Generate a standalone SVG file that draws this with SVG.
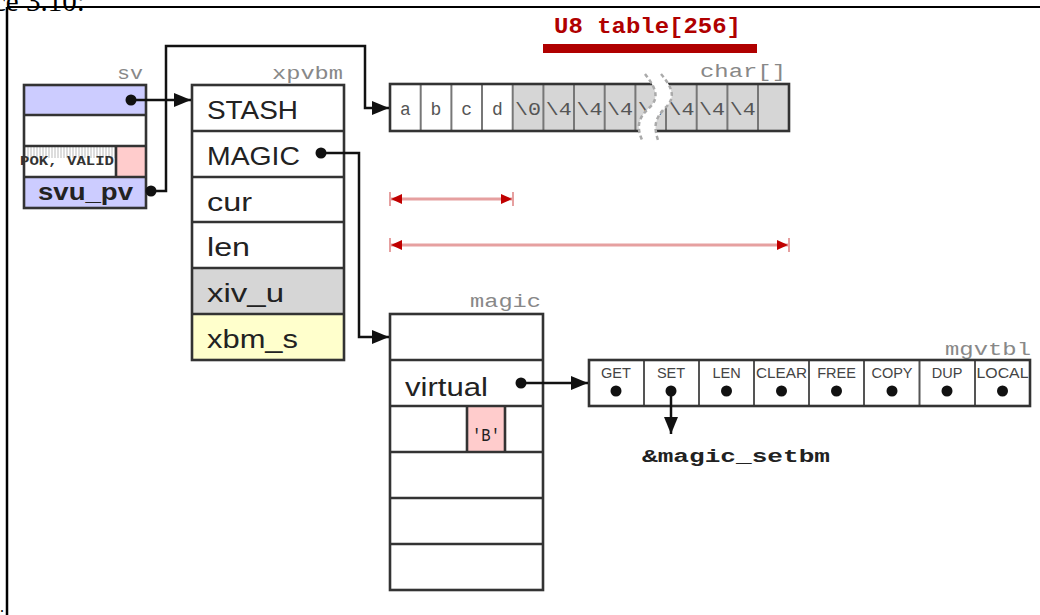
<svg xmlns="http://www.w3.org/2000/svg" width="1040" height="615" viewBox="0 0 1040 615">
<style>
.box{stroke:#333;stroke-width:2.6;fill:none}
.cell{stroke:#333;stroke-width:2.6}
.div{stroke:#777;stroke-width:2}
.lbl{font-family:"Liberation Sans",Arial,sans-serif;font-size:25px;fill:#222}
.mono{font-family:"Liberation Mono","Courier New",monospace;font-size:19px;fill:#888}
.cm{font-family:"Liberation Mono","Courier New",monospace;font-size:18px;fill:#555}
.vt{font-family:"Liberation Sans",Arial,sans-serif;font-size:14.5px;fill:#444;text-anchor:middle}
.con{stroke:#111;stroke-width:2.5;fill:none}
.dim{stroke:#e6a0a0;stroke-width:3;fill:none}
.tick{stroke:#e6a0a0;stroke-width:2}
</style>
<defs>
<marker id="ah" markerUnits="userSpaceOnUse" markerWidth="18" markerHeight="14" refX="17" refY="7" orient="auto">
<path d="M0,0 L17,7 L0,14 z" fill="#111"/>
</marker>
<marker id="rh" markerUnits="userSpaceOnUse" markerWidth="12" markerHeight="10" refX="11" refY="5" orient="auto-start-reverse">
<path d="M0,0 L11,5 L0,10 z" fill="#c00000"/>
</marker>
<pattern id="hatch" patternUnits="userSpaceOnUse" width="3" height="12">
<line x1="1" y1="0" x2="1" y2="12" stroke="#bbb" stroke-width="1"/>
</pattern>
</defs>

<rect x="0" y="0" width="1040" height="615" fill="#fff"/>
<g id="page">
<text x="-7" y="11" font-family="'Liberation Serif','Times New Roman',serif" font-size="29" fill="#000">ce 3.10:</text>
<line x1="7" y1="7" x2="1040" y2="7" stroke="#000" stroke-width="2"/>
<line x1="7" y1="7" x2="7" y2="615" stroke="#000" stroke-width="2.5"/>
<text x="0" y="612" font-family="'Liberation Serif','Times New Roman',serif" font-size="16" fill="#000">.</text>
</g>

<g id="sv">
<text class="mono" x="143" y="79" text-anchor="end" textLength="26" lengthAdjust="spacingAndGlyphs">sv</text>
<rect x="24" y="85" width="122" height="30" fill="#ccccff"/>
<rect x="24" y="115" width="122" height="31" fill="#fff"/>
<rect x="24" y="146" width="92" height="31" fill="#fff"/>
<rect x="24" y="147" width="92" height="11" fill="url(#hatch)"/>
<rect x="116" y="146" width="30" height="31" fill="#ffcccc"/>
<rect x="24" y="177" width="122" height="31" fill="#ccccff"/>
<text x="20" y="165" font-family="'Liberation Mono','Courier New',monospace" font-weight="bold" font-size="13" fill="#333" textLength="94" lengthAdjust="spacingAndGlyphs">POK, VALID</text>
<line x1="24" y1="115" x2="146" y2="115" class="cell"/>
<line x1="24" y1="146" x2="146" y2="146" class="cell"/>
<line x1="24" y1="177" x2="146" y2="177" class="cell"/>
<line x1="116" y1="146" x2="116" y2="177" class="cell"/>
<rect x="24" y="85" width="122" height="123" class="box"/>
<text x="38" y="200" font-family="'Liberation Sans',Arial,sans-serif" font-weight="bold" font-size="24" fill="#222" textLength="95" lengthAdjust="spacingAndGlyphs">svu_pv</text>
</g>

<g id="xpvbm">
<text class="mono" x="343" y="79" text-anchor="end" textLength="71" lengthAdjust="spacingAndGlyphs">xpvbm</text>
<rect x="192" y="85" width="152" height="183" fill="#fff"/>
<rect x="192" y="268" width="152" height="46" fill="#d6d6d6"/>
<rect x="192" y="314" width="152" height="46" fill="#ffffcc"/>
<line x1="192" y1="131" x2="344" y2="131" class="cell"/>
<line x1="192" y1="177" x2="344" y2="177" class="cell"/>
<line x1="192" y1="222" x2="344" y2="222" class="cell"/>
<line x1="192" y1="268" x2="344" y2="268" class="cell"/>
<line x1="192" y1="314" x2="344" y2="314" class="cell"/>
<rect x="192" y="85" width="152" height="275" class="box"/>
<text class="lbl" x="207" y="119" textLength="91" lengthAdjust="spacingAndGlyphs">STASH</text>
<text class="lbl" x="207" y="165" textLength="93" lengthAdjust="spacingAndGlyphs">MAGIC</text>
<text class="lbl" x="207" y="211" textLength="45" lengthAdjust="spacingAndGlyphs">cur</text>
<text class="lbl" x="207" y="256" textLength="43" lengthAdjust="spacingAndGlyphs">len</text>
<text class="lbl" x="207" y="302" textLength="77" lengthAdjust="spacingAndGlyphs">xiv_u</text>
<text class="lbl" x="207" y="348" textLength="91" lengthAdjust="spacingAndGlyphs">xbm_s</text>
</g>

<g id="table">
<text x="554" y="33" font-family="'Liberation Mono','Courier New',monospace" font-weight="bold" font-size="22" fill="#b00000" textLength="187" lengthAdjust="spacingAndGlyphs">U8 table[256]</text>
<rect x="543" y="44" width="214" height="9" fill="#b00000"/>
</g>

<g id="char">
<text class="mono" x="786" y="77" text-anchor="end" textLength="86" lengthAdjust="spacingAndGlyphs">char[]</text>
<rect x="390" y="84" width="123" height="47" fill="#fff"/>
<rect x="513" y="84" width="276" height="47" fill="#d6d6d6"/>
<g class="div">
<line x1="420.7" y1="84" x2="420.7" y2="131"/>
<line x1="451.4" y1="84" x2="451.4" y2="131"/>
<line x1="482" y1="84" x2="482" y2="131"/>
<line x1="512.7" y1="84" x2="512.7" y2="131"/>
<line x1="543.4" y1="84" x2="543.4" y2="131"/>
<line x1="574" y1="84" x2="574" y2="131"/>
<line x1="604.7" y1="84" x2="604.7" y2="131"/>
<line x1="635.4" y1="84" x2="635.4" y2="131"/>
<line x1="666" y1="84" x2="666" y2="131"/>
<line x1="696.7" y1="84" x2="696.7" y2="131"/>
<line x1="727.4" y1="84" x2="727.4" y2="131"/>
<line x1="758" y1="84" x2="758" y2="131"/>
</g>
<rect x="390" y="84" width="399" height="47" class="box"/>
<g class="cm" text-anchor="middle">
<text x="405.3" y="115">a</text>
<text x="436" y="115">b</text>
<text x="466.7" y="115">c</text>
<text x="497.4" y="115">d</text>
<text x="528" y="115" textLength="26" lengthAdjust="spacingAndGlyphs">\0</text>
<text x="558.7" y="115" textLength="26" lengthAdjust="spacingAndGlyphs">\4</text>
<text x="589.4" y="115" textLength="26" lengthAdjust="spacingAndGlyphs">\4</text>
<text x="620" y="115" textLength="26" lengthAdjust="spacingAndGlyphs">\4</text>
<text x="650.7" y="115" textLength="26" lengthAdjust="spacingAndGlyphs">\4</text>
<text x="681.4" y="115" textLength="26" lengthAdjust="spacingAndGlyphs">\4</text>
<text x="712" y="115" textLength="26" lengthAdjust="spacingAndGlyphs">\4</text>
<text x="742.7" y="115" textLength="26" lengthAdjust="spacingAndGlyphs">\4</text>
</g>
<path d="M645 74 C656 88 660 98 649 108 C637 119 637 128 642 140 L658 140 C654 128 654 119 665 108 C676 98 673 88 661 74 Z" fill="#fff"/>
<path d="M645 74 C656 88 660 98 649 108 C637 119 637 128 642 140" fill="none" stroke="#aaa" stroke-width="2.5" stroke-dasharray="4 3"/>
<path d="M661 74 C673 88 676 98 665 108 C654 119 654 128 658 140" fill="none" stroke="#aaa" stroke-width="2.5" stroke-dasharray="4 3"/>
</g>

<g id="dims">
<line class="dim" x1="391" y1="199" x2="512" y2="199" marker-start="url(#rh)" marker-end="url(#rh)"/>
<line class="tick" x1="390" y1="192" x2="390" y2="206"/>
<line class="tick" x1="513" y1="192" x2="513" y2="206"/>
<line class="dim" x1="391" y1="245" x2="788" y2="245" marker-start="url(#rh)" marker-end="url(#rh)"/>
<line class="tick" x1="390" y1="238" x2="390" y2="252"/>
<line class="tick" x1="789" y1="238" x2="789" y2="252"/>
</g>

<g id="magic">
<text class="mono" x="541" y="307" text-anchor="end" textLength="71" lengthAdjust="spacingAndGlyphs">magic</text>
<rect x="390" y="314" width="153" height="276" fill="#fff"/>
<rect x="467" y="406" width="38" height="46" fill="#ffcccc"/>
<line x1="390" y1="360" x2="543" y2="360" class="cell"/>
<line x1="390" y1="406" x2="543" y2="406" class="cell"/>
<line x1="390" y1="452" x2="543" y2="452" class="cell"/>
<line x1="390" y1="498" x2="543" y2="498" class="cell"/>
<line x1="390" y1="544" x2="543" y2="544" class="cell"/>
<line x1="467" y1="406" x2="467" y2="452" class="cell"/>
<line x1="505" y1="406" x2="505" y2="452" class="cell"/>
<rect x="390" y="314" width="153" height="276" class="box"/>
<text class="lbl" x="405" y="396" textLength="83" lengthAdjust="spacingAndGlyphs">virtual</text>
<text x="486" y="441" text-anchor="middle" font-family="'Liberation Mono','Courier New',monospace" font-size="19" fill="#222" textLength="28" lengthAdjust="spacingAndGlyphs">'B'</text>
</g>

<g id="mgvtbl">
<text class="mono" x="1031" y="355" text-anchor="end" textLength="86" lengthAdjust="spacingAndGlyphs">mgvtbl</text>
<rect x="589" y="360" width="441" height="46" fill="#fff"/>
<g class="div" style="stroke:#555">
<line x1="644" y1="360" x2="644" y2="406"/>
<line x1="699" y1="360" x2="699" y2="406"/>
<line x1="754" y1="360" x2="754" y2="406"/>
<line x1="809" y1="360" x2="809" y2="406"/>
<line x1="864" y1="360" x2="864" y2="406"/>
<line x1="919.5" y1="360" x2="919.5" y2="406"/>
<line x1="975" y1="360" x2="975" y2="406"/>
</g>
<rect x="589" y="360" width="441" height="46" class="box"/>
<text class="vt" x="616" y="378">GET</text>
<text class="vt" x="671" y="378">SET</text>
<text class="vt" x="726.5" y="378">LEN</text>
<text class="vt" x="781.5" y="378" textLength="51" lengthAdjust="spacingAndGlyphs">CLEAR</text>
<text class="vt" x="836.5" y="378">FREE</text>
<text class="vt" x="892" y="378">COPY</text>
<text class="vt" x="947" y="378">DUP</text>
<text class="vt" x="1002.5" y="378" textLength="52" lengthAdjust="spacingAndGlyphs">LOCAL</text>
<g fill="#111">
<circle cx="616" cy="391" r="5.5"/>
<circle cx="726.5" cy="391" r="5.5"/>
<circle cx="781.5" cy="391" r="5.5"/>
<circle cx="836.5" cy="391" r="5.5"/>
<circle cx="892" cy="391" r="5.5"/>
<circle cx="947" cy="391" r="5.5"/>
<circle cx="1002.5" cy="391" r="5.5"/>
</g>
</g>

<g id="setbm">
<text x="642" y="462" font-family="'Liberation Mono','Courier New',monospace" font-weight="bold" font-size="18" fill="#222" textLength="188" lengthAdjust="spacingAndGlyphs">&amp;magic_setbm</text>
</g>

<g id="connectors">
<g fill="#111">
<circle cx="131" cy="100" r="5.5"/>
<circle cx="151" cy="191" r="5.5"/>
<circle cx="321" cy="153" r="5.5"/>
<circle cx="521" cy="383" r="5.5"/>
<circle cx="671" cy="391" r="5.5"/>
</g>
<path class="con" d="M131 100 H191" marker-end="url(#ah)"/>
<path class="con" d="M151 191 H166 V46 H365 V108 H389" marker-end="url(#ah)"/>
<path class="con" d="M321 153 H359 V337 H389" marker-end="url(#ah)"/>
<path class="con" d="M521 383 H588" marker-end="url(#ah)"/>
<path class="con" d="M671 391 V434" marker-end="url(#ah)"/>
</g>
</svg>
